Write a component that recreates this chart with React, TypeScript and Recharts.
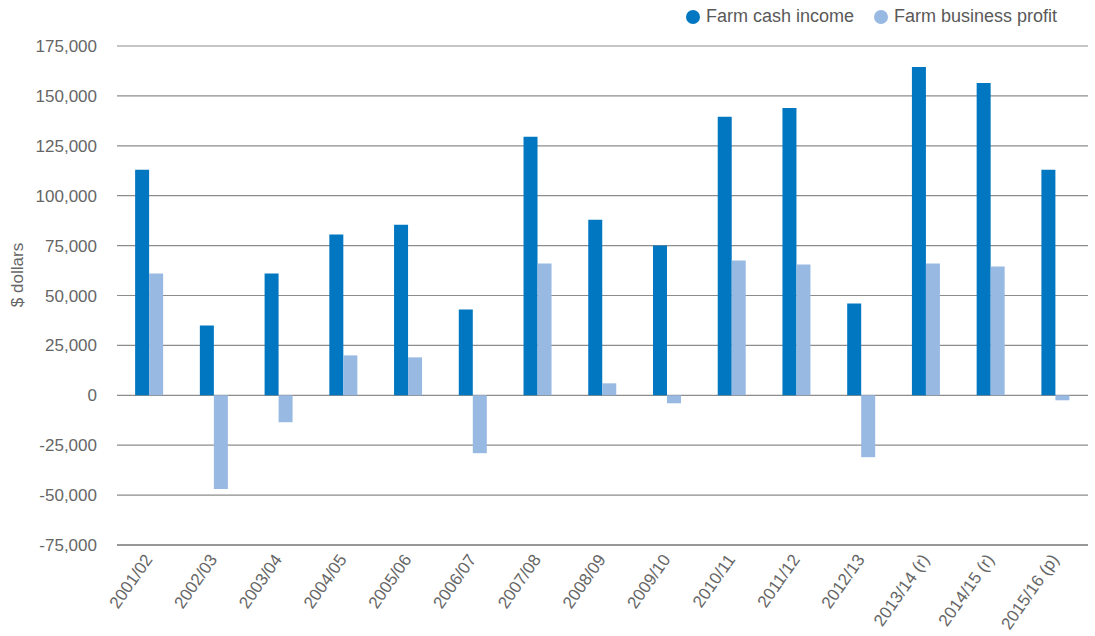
import { BarChart, Bar, XAxis, YAxis, CartesianGrid } from "recharts";

const categories = [
  "2001/02",
  "2002/03",
  "2003/04",
  "2004/05",
  "2005/06",
  "2006/07",
  "2007/08",
  "2008/09",
  "2009/10",
  "2010/11",
  "2011/12",
  "2012/13",
  "2013/14 (r)",
  "2014/15 (r)",
  "2015/16 (p)",
];

const cashIncome = [113000, 35000, 61000, 80500, 85500, 43000, 129500, 88000, 75000, 139500, 144000, 46000, 164500, 156500, 113000];
const businessProfit = [61000, -47000, -13500, 20000, 19000, -29000, 66000, 6000, -4000, 67500, 65500, -31000, 66000, 64500, -2500];

const yTicks = [-75000, -50000, -25000, 0, 25000, 50000, 75000, 100000, 125000, 150000, 175000];

const series = [
  { key: "cash", label: "Farm cash income", color: "#0077c0" },
  { key: "profit", label: "Farm business profit", color: "#97b9e2" },
];

const data = categories.map((name, i) => ({
  name,
  cash: cashIncome[i],
  profit: businessProfit[i],
}));

const FONT = "'Liberation Sans', Arial, Helvetica, sans-serif";
const TEXT = "#666666";

const formatTick = (v: number) => v.toLocaleString("en-US");

const YLabel = () => (
  <text
    x={23}
    y={275}
    transform="rotate(-90 23 275)"
    textAnchor="middle"
    fill={TEXT}
    fontSize={17}
    fontFamily={FONT}
  >
    $ dollars
  </text>
);

// rotated category label, right end sits just under the bar pair
const XTick = ({ x, y, payload }: any) => (
  <g transform={`translate(${x - 1},${y + 9})`}>
    <text
      transform="rotate(-55)"
      textAnchor="end"
      dy="0.35em"
      fill={TEXT}
      fontSize={17}
      fontFamily={FONT}
    >
      {payload.value}
    </text>
  </g>
);

export default function App() {
  return (
    <div style={{ position: "absolute", left: 0, top: 0, width: 1095, height: 636, background: "#fff", fontFamily: FONT }}>
      <div
        style={{
          position: "absolute",
          top: 6,
          right: 38,
          display: "flex",
          gap: 20,
          fontSize: 18,
          color: "#595959",
          zIndex: 2,
        }}
      >
        {series.map((s) => (
          <div key={s.key} style={{ display: "flex", alignItems: "center", gap: 6 }}>
            <span style={{ width: 14, height: 14, borderRadius: "50%", background: s.color, display: "inline-block" }} />
            <span>{s.label}</span>
          </div>
        ))}
      </div>
      <BarChart
        width={1095}
        height={636}
        data={data}
        margin={{ top: 46, right: 7, bottom: 0, left: 0 }}
        barCategoryGap="28%"
        barGap={0}
      >
        <CartesianGrid vertical={false} stroke="#8c8c8c" strokeWidth={1.2} />
        <XAxis
          dataKey="name"
          height={91}
          interval={0}
          axisLine={{ stroke: "#6b6b6b" }}
          tickLine={false}
          tickSize={0}
          tick={<XTick />}
        />
        <YAxis
          width={117}
          domain={[-75000, 175000]}
          ticks={yTicks}
          interval={0}
          axisLine={false}
          tickLine={false}
          tickSize={10}
          tickMargin={10}
          tickFormatter={formatTick}
          tick={{ fill: TEXT, fontSize: 17, fontFamily: FONT }}
          label={<YLabel />}
        />
        {series.map((s) => (
          <Bar key={s.key} dataKey={s.key} name={s.label} fill={s.color} isAnimationActive={false} />
        ))}
      </BarChart>
    </div>
  );
}
